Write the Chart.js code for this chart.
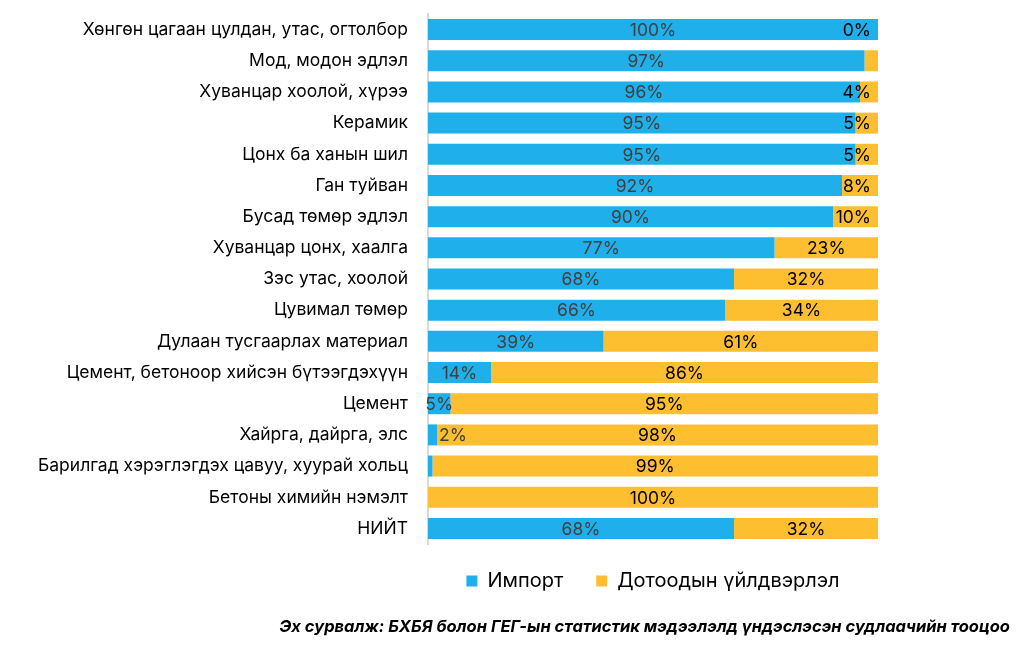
<!DOCTYPE html>
<html>
<head>
<meta charset="utf-8">
<script src="https://cdn.jsdelivr.net/npm/chart.js@4.4.1/dist/chart.umd.min.js"></script>
<style>
  html, body { margin: 0; padding: 0; background: #fff; }
  #wrap { position: relative; width: 1024px; height: 655px; }
  #source {
    position: absolute; right: 14px; top: 616px;
    font-family: Inter, sans-serif; font-weight: bold; font-style: italic;
    font-size: 16.5px; color: #000; white-space: nowrap;
  }
</style>
</head>
<body>
<div id="wrap">
  <canvas id="myBarChart" width="1024" height="655"></canvas>
  <div id="source">Эх сурвалж: БХБЯ болон ГЕГ-ын статистик мэдээлэлд үндэслэсэн судлаачийн тооцоо</div>
</div>
<script>
var categories = [
    "Хөнгөн цагаан цулдан, утас, огтолбор",
    "Мод, модон эдлэл",
    "Хуванцар хоолой, хүрээ",
    "Керамик",
    "Цонх ба ханын шил",
    "Ган туйван",
    "Бусад төмөр эдлэл",
    "Хуванцар цонх, хаалга",
    "Зэс утас, хоолой",
    "Цувимал төмөр",
    "Дулаан тусгаарлах материал",
    "Цемент, бетоноор хийсэн бүтээгдэхүүн",
    "Цемент",
    "Хайрга, дайрга, элс",
    "Барилгад хэрэглэгдэх цавуу, хуурай хольц",
    "Бетоны химийн нэмэлт",
    "НИЙТ"
];
var importValues   = [100, 97, 96, 95, 95, 92, 90, 77, 68, 66, 39, 14, 5, 2, 1, 0, 68];
var domesticValues = [0, 3, 4, 5, 5, 8, 10, 23, 32, 34, 61, 86, 95, 98, 99, 100, 32];
// labels that were left off in the original: [dataset, index]
var hiddenLabels = [[1, 1], [0, 14], [0, 15]];

var blue = "#1FB0EB";
var yellow = "#FDBE30";

function isHidden(d, i) {
    for (var k = 0; k < hiddenLabels.length; k++) {
        if (hiddenLabels[k][0] === d && hiddenLabels[k][1] === i) return true;
    }
    return false;
}

// simple data label drawing, no plugin available offline
var barLabels = {
    id: "barLabels",
    afterDatasetsDraw: function (chart) {
        var ctx = chart.ctx;
        var area = chart.chartArea;
        ctx.save();
        ctx.font = "17.5px Inter, sans-serif";
        ctx.textBaseline = "middle";
        chart.data.datasets.forEach(function (ds, d) {
            var meta = chart.getDatasetMeta(d);
            meta.data.forEach(function (bar, i) {
                if (isHidden(d, i)) return;
                var v = ds.data[i];
                var txt = v + "%";
                var w = ctx.measureText(txt).width;
                var left = Math.min(bar.x, bar.base);
                var right = Math.max(bar.x, bar.base);
                var x;
                if (d === 0 && v < 4) {
                    x = right + 2 + w / 2;
                } else {
                    x = (left + right) / 2;
                    if (x + w / 2 > area.right - 7) x = area.right - 7 - w / 2;
                }
                ctx.fillStyle = d === 0 ? "#404040" : "#000000";
                ctx.textAlign = "center";
                ctx.fillText(txt, x, bar.y + 1);
            });
        });
        ctx.restore();
    }
};

// centre the legend under the plot area and pull it a little closer
var legendUnderPlot = {
    id: "legendUnderPlot",
    afterLayout: function (chart) {
        chart.legend.left = chart.chartArea.left;
        chart.legend.right = chart.chartArea.right;
        chart.legend.top -= 6;
        chart.legend.bottom -= 6;
    }
};

var ctx = document.getElementById("myBarChart");
var myBarChart = new Chart(ctx, {
    type: "bar",
    data: {
        labels: categories,
        datasets: [
            {
                label: "Импорт",
                data: importValues,
                backgroundColor: blue,
                barPercentage: 0.674,
                categoryPercentage: 1
            },
            {
                label: "Дотоодын үйлдвэрлэл",
                data: domesticValues,
                backgroundColor: yellow,
                barPercentage: 0.674,
                categoryPercentage: 1
            }
        ]
    },
    options: {
        responsive: false,
        animation: false,
        indexAxis: "y",
        layout: {
            padding: { top: 14, right: 146, bottom: 48, left: 0 }
        },
        scales: {
            x: {
                stacked: true,
                display: false,
                min: 0,
                max: 100
            },
            y: {
                stacked: true,
                grid: { display: false },
                border: { color: "#d9d9d9", width: 2 },
                ticks: {
                    color: "#000",
                    padding: 12,
                    font: { family: "Inter, sans-serif", size: 17.5 }
                },
                afterFit: function (scale) {
                    scale.width = 428;
                    scale.paddingTop = 0;
                    scale.paddingBottom = 0;
                }
            }
        },
        plugins: {
            legend: {
                position: "bottom",
                labels: {
                    color: "#000",
                    boxWidth: 11,
                    boxHeight: 11,
                    padding: 33,
                    font: { family: "Inter, sans-serif", size: 20 }
                }
            },
            tooltip: { enabled: false }
        }
    },
    plugins: [barLabels, legendUnderPlot]
});
</script>
</body>
</html>
